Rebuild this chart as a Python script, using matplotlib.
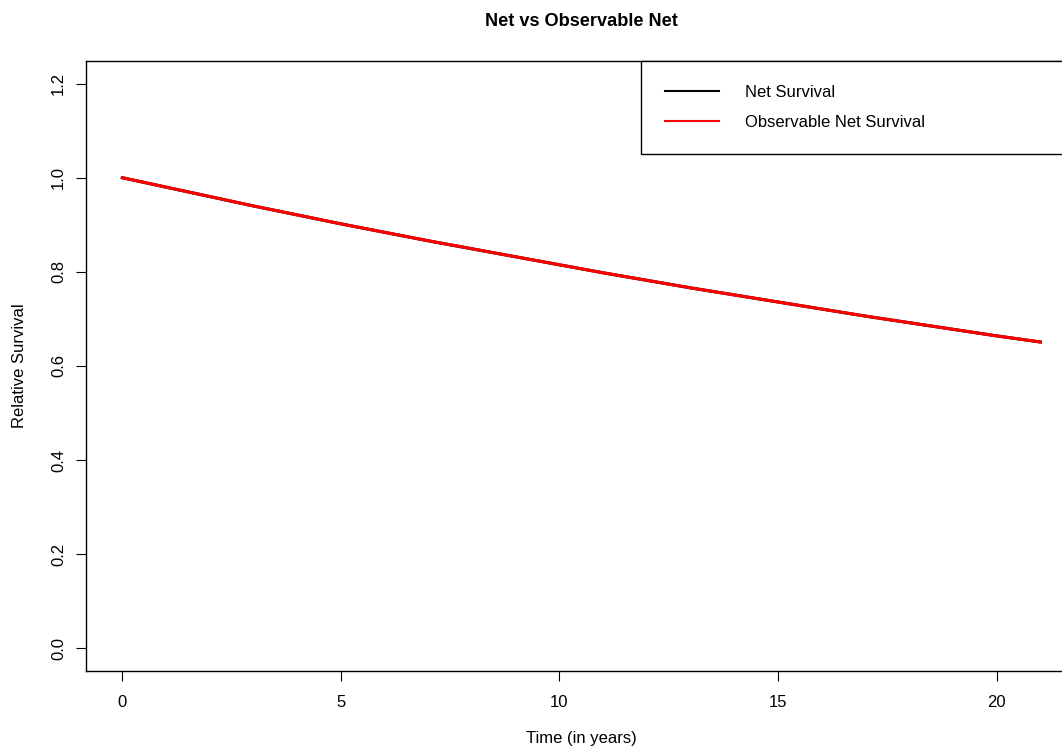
import matplotlib
matplotlib.use("Agg")
import matplotlib.pyplot as plt

plt.rcParams["font.family"] = ["Liberation Sans", "DejaVu Sans"]

# survival curves, yearly values
years = list(range(0, 22))
net_surv = [1.000, 0.980, 0.960, 0.940, 0.921, 0.902, 0.884, 0.866, 0.849, 0.832, 0.815,
            0.798, 0.782, 0.766, 0.751, 0.736, 0.721, 0.706, 0.692, 0.678, 0.664, 0.651]
obs_net_surv = [1.000, 0.980, 0.960, 0.940, 0.921, 0.902, 0.884, 0.866, 0.849, 0.832, 0.815,
                0.798, 0.782, 0.766, 0.751, 0.736, 0.721, 0.706, 0.692, 0.678, 0.664, 0.651]
x_ticks = [0, 5, 10, 15, 20]
y_ticks = [0.0, 0.2, 0.4, 0.6, 0.8, 1.0, 1.2]
legend_labels = ["Net Survival", "Observable Net Survival"]

W, H = 1062, 747
fig = plt.figure(figsize=(W / 100, H / 100), dpi=100)
# plot region runs past the right edge of the canvas
x0, x1, y0, y1 = 85.6, 1077.0, 61.0, 671.0
ax = fig.add_axes([x0 / W, 1 - y1 / H, (x1 - x0) / W, (y1 - y0) / H])

ax.plot(years, net_surv, color="black", lw=2.2)
ax.plot(years, obs_net_surv, color="red", lw=2.2)

ax.set_xlim(-0.84, 21.84)
ax.set_ylim(-0.048, 1.248)
ax.set_xticks(x_ticks)
ax.set_xticklabels([str(t) for t in x_ticks])
ax.set_yticks(y_ticks)
ax.set_yticklabels([f"{t:.1f}" for t in y_ticks])
ax.tick_params(axis="both", length=7.2, width=0.8, labelsize=12)
ax.tick_params(axis="x", pad=10)
ax.tick_params(axis="y", pad=6.8, labelrotation=90)
for lab in ax.get_yticklabels():
    lab.set_verticalalignment("center")
for sp in ax.spines.values():
    sp.set_linewidth(1.0)

# legend box anchored to the top-right corner of the plot region
lx0 = (641 - x0) / (x1 - x0)
ly0 = (y1 - 151) / (y1 - y0)
h1, = ax.plot([], [], color="black", lw=1.5)
h2, = ax.plot([], [], color="red", lw=1.5)
leg = ax.legend([h1, h2], legend_labels, loc="upper left",
                bbox_to_anchor=(lx0, ly0, 1 - lx0, 1 - ly0), mode="expand",
                borderaxespad=0, fontsize=12, handlelength=3.24,
                handletextpad=1.56, labelspacing=0.89, borderpad=1.45,
                fancybox=False, framealpha=1, edgecolor="black")
leg.get_frame().set_linewidth(1.0)

fig.text(581 / W, 1 - 22 / H, "Net vs Observable Net", ha="center", va="center",
         fontsize=13.1, fontweight="bold")
fig.text(581 / W, 1 - 738 / H, "Time (in years)", ha="center", va="center", fontsize=12)
fig.text(20 / W, 1 - 366 / H, "Relative Survival", ha="center", va="center",
         rotation=90, fontsize=12)

fig.savefig("out.png", dpi=100)
